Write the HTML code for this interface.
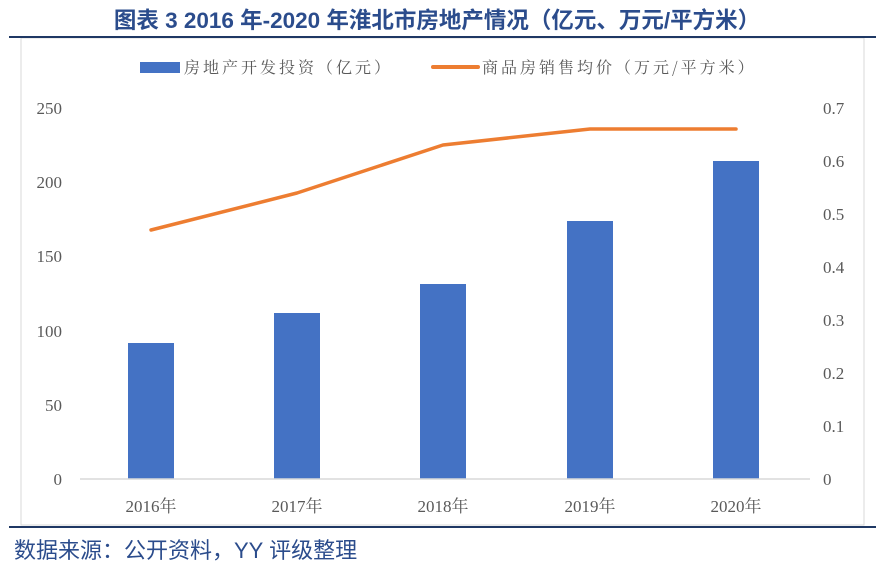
<!DOCTYPE html>
<html><head><meta charset="utf-8"><style>
body{margin:0;background:#fff;width:879px;height:563px;overflow:hidden;font-family:"Liberation Sans","Noto Sans CJK SC",sans-serif}
</style></head><body>
<svg width="879" height="563" xmlns="http://www.w3.org/2000/svg">
<text x="437" y="28" text-anchor="middle" font-family="Liberation Sans,Noto Sans CJK SC,sans-serif" font-weight="bold" font-size="22.5" fill="#2B4C8C">图表 3 2016 年-2020 年淮北市房地产情况（亿元、万元/平方米）</text>
<rect x="21" y="38" width="843" height="487" fill="#fff" stroke="#d9d9d9" stroke-width="1"/>
<line x1="9" y1="37" x2="876" y2="37" stroke="#1F3864" stroke-width="2"/>
<line x1="9" y1="527" x2="876" y2="527" stroke="#1F3864" stroke-width="2"/>
<rect x="140" y="62" width="40" height="11" fill="#4472C4"/>
<text x="184" y="73" font-family="Noto Serif CJK SC,serif" font-size="16" letter-spacing="3" fill="#595959">房地产开发投资（亿元）</text>
<line x1="433" y1="67" x2="478" y2="67" stroke="#ED7D31" stroke-width="4" stroke-linecap="round"/>
<text x="482" y="73" font-family="Noto Serif CJK SC,serif" font-size="16" letter-spacing="3" fill="#595959">商品房销售均价（万元/平方米）</text>
<g font-family="Liberation Serif,serif" font-size="17" fill="#595959" text-anchor="end">
<text x="62" y="114">250</text><text x="62" y="188">200</text><text x="62" y="262">150</text><text x="62" y="337">100</text><text x="62" y="411">50</text><text x="62" y="485">0</text>
</g>
<g font-family="Liberation Serif,serif" font-size="17" fill="#595959">
<text x="823" y="114">0.7</text><text x="823" y="167">0.6</text><text x="823" y="220">0.5</text><text x="823" y="273">0.4</text><text x="823" y="326">0.3</text><text x="823" y="379">0.2</text><text x="823" y="432">0.1</text><text x="823" y="485">0</text>
</g>
<g fill="#4472C4">
<rect x="128" y="343" width="46" height="136"/>
<rect x="274" y="313" width="46" height="166"/>
<rect x="420" y="284" width="46" height="195"/>
<rect x="567" y="221" width="46" height="258"/>
<rect x="713" y="161" width="46" height="318"/>
</g>
<line x1="80" y1="479" x2="810" y2="479" stroke="#d9d9d9" stroke-width="1.5"/>
<polyline points="151,230 297,193 443,145 590,129 736,129" fill="none" stroke="#ED7D31" stroke-width="3.5" stroke-linejoin="round" stroke-linecap="round"/>
<g font-family="Liberation Serif,Noto Serif CJK SC,serif" font-size="17" fill="#595959" text-anchor="middle">
<text x="151" y="512">2016年</text><text x="297" y="512">2017年</text><text x="443" y="512">2018年</text><text x="590" y="512">2019年</text><text x="736" y="512">2020年</text>
</g>
<text x="14" y="558" font-size="22" fill="#2B4C8C">数据来源：公开资料，YY 评级整理</text>
</svg>
</body></html>
